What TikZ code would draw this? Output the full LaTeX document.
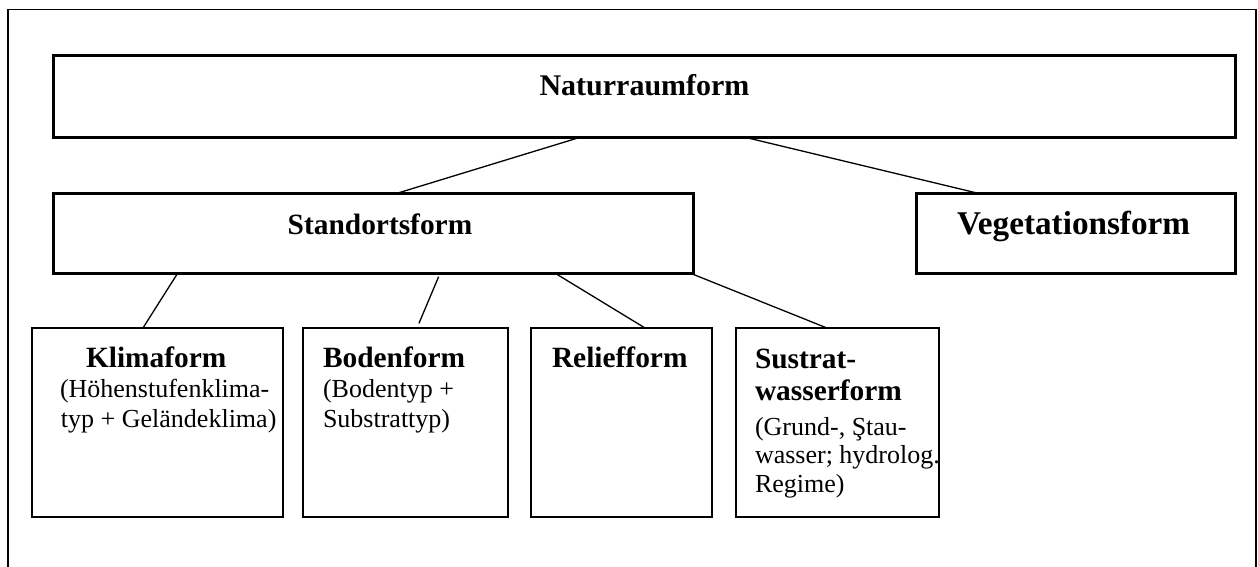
\documentclass[tikz,border=0pt]{standalone}
\usepackage{fontspec}
\setmainfont{Liberation Serif}
\usetikzlibrary{calc}
\begin{document}
\begin{tikzpicture}[x=0.5pt,y=-0.5pt,
  frame/.style={line width=0.75pt},
  bigbox/.style={draw, line width=1.5pt, inner sep=0pt, outer sep=0pt, anchor=north west, minimum height=40pt},
  smallbox/.style={draw, line width=0.75pt, inner sep=0pt, outer sep=0pt, anchor=north west, minimum height=94.5pt},
  ttl/.style={font=\fontsize{14.7}{16}\selectfont\bfseries, inner sep=0pt, outer sep=0pt},
  sub/.style={font=\fontsize{13}{15}\selectfont, inner sep=0pt, outer sep=0pt, anchor=base west},
  conn/.style={line width=0.65pt}
]
\useasboundingbox (0,0) rectangle (1258,567);
% outer frame (open at the bottom)
\draw[frame] (8,567) -- (8,9.5) -- (1256,9.5) -- (1256,567);

% boxes
\node[bigbox, minimum width=591pt, minimum height=41pt] (nat) at (53,56) {};
\node[bigbox, minimum width=320pt] (sto) at (53,193) {};
\node[bigbox, minimum width=159.5pt] (veg) at (916,193) {};
\node[smallbox, minimum width=125.5pt] (kli) at (32,328) {};
\node[smallbox, minimum width=102.5pt] (bod) at (303,328) {};
\node[smallbox, minimum width=90.5pt] (rel) at (531,328) {};
\node[smallbox, minimum width=101.5pt] (sus) at (736,328) {};

% titles
\node[ttl, anchor=base, font=\fontsize{15}{16}\selectfont\bfseries] (natT) at (644.5,96) {Naturraumform};
\node[ttl, anchor=base] (stoT) at (380,234) {Standortsform};
\node[ttl, anchor=base, font=\fontsize{16.6}{18}\selectfont\bfseries] (vegT) at (1073.5,234) {Vegetationsform};
\node[ttl, anchor=base west] (kliT) at (86,367) {Klimaform};
\node[ttl, anchor=base west] (bodT) at (323,367) {Bodenform};
\node[ttl, anchor=base west] (relT) at (552,367) {Reliefform};
\node[ttl, anchor=base west] (susT) at (755,368) {Sustrat-};
\node[ttl, anchor=base west] (susT2) at (755,400) {wasserform};

% sub texts
\node[sub] (kli1) at (60,397) {(Höhenstufenklima-};
\node[sub] (kli2) at (61,427) {typ + Geländeklima)};
\node[sub] (bod1) at (323,397) {(Bodentyp +};
\node[sub] (bod2) at (323,427) {Substrattyp)};
\node[sub] (sus1) at (755,435) {(Grund-, Ştau-};
\node[sub] (sus2) at (755,463) {wasser; hydrolog.};
\node[sub] (sus3) at (755,492) {Regime)};

% connectors
\draw[conn] ($(nat.south west)!0.444!(nat.south east)$) -- ($(sto.north west)!0.539!(sto.north east)$);
\draw[conn] ($(nat.south west)!0.588!(nat.south east)$) -- ($(veg.north west)!0.191!(veg.north east)$);
\draw[conn] ($(sto.south west)!0.195!(sto.south east)$) -- ($(kli.north west)!0.442!(kli.north east)$);
\draw[conn, shorten <=2pt, shorten >=2.5pt] ($(sto.south west)!0.605!(sto.south east)$) -- ($(bod.north west)!0.556!(bod.north east)$);
\draw[conn] ($(sto.south west)!0.784!(sto.south east)$) -- ($(rel.north west)!0.63!(rel.north east)$);
\draw[conn, shorten <=2pt] ($(sto.south west)!0.995!(sto.south east)$) -- ($(sus.north west)!0.448!(sus.north east)$);
\end{tikzpicture}
\end{document}
